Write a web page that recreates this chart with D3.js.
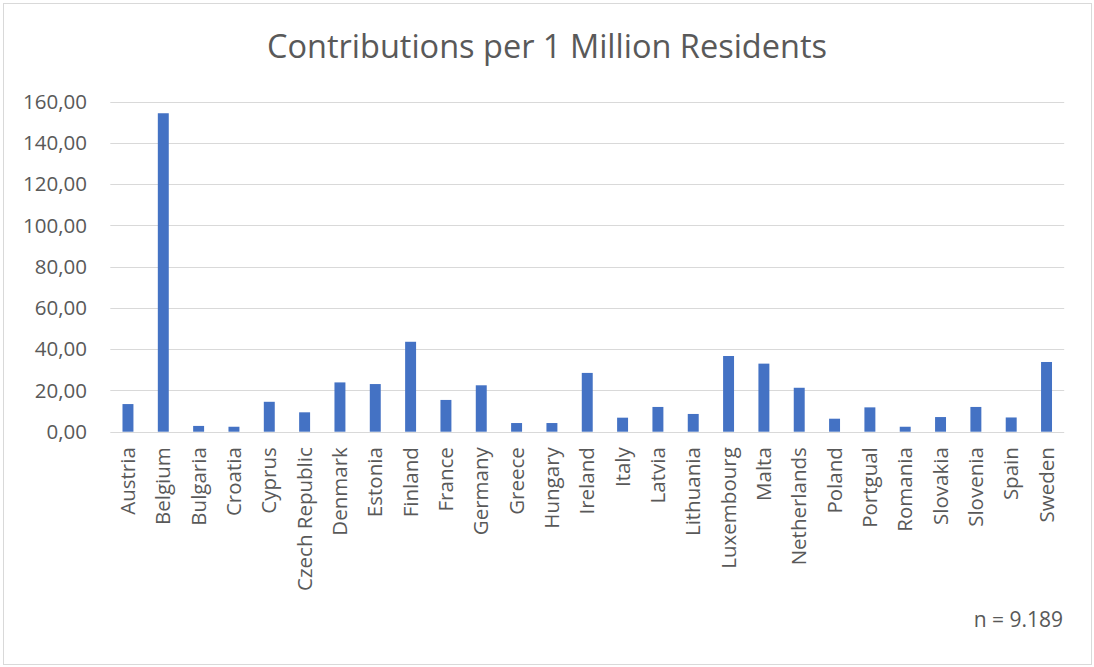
<!DOCTYPE html>
<html><head><meta charset="utf-8">
<script src="https://cdn.jsdelivr.net/npm/d3@7"></script>
<style>body{margin:0;background:#fff;} svg{display:block;}</style>
</head><body>
<svg id="chart" width="1094" height="667"></svg>
<script>
const categories = ["Austria","Belgium","Bulgaria","Croatia","Cyprus","Czech Republic","Denmark","Estonia","Finland","France","Germany","Greece","Hungary","Ireland","Italy","Latvia","Lithuania","Luxembourg","Malta","Netherlands","Poland","Portgual","Romania","Slovakia","Slovenia","Spain","Sweden"];
const values = [13.4,154.4,2.8,2.4,14.5,9.4,23.9,23.1,43.6,15.4,22.5,4.2,4.2,28.5,6.8,12.0,8.6,36.7,33.0,21.3,6.3,11.8,2.4,7.1,12.0,6.9,33.8];
const yTicks = [0,20,40,60,80,100,120,140,160];
const title = "Contributions per 1 Million Residents";
const note = "n = 9.189";

const font = "Open Sans, Lato, sans-serif";
const svg = d3.select("#chart");
svg.append("rect").attr("x",3.5).attr("y",3.5).attr("width",1088).attr("height",661)
  .attr("fill","#fff").attr("stroke","#d9d9d9").attr("stroke-width",1);

const x = d3.scaleBand().domain(categories).range([110.3,1064.2]).paddingInner(0.69).paddingOuter(0.345);
const y = d3.scaleLinear().domain([0,160]).range([431.7,101.7]);

const fmt = v => d3.format(".2f")(v).replace(".",",");

// gridlines
svg.append("g").selectAll("line").data(yTicks).join("line")
  .attr("x1",110.3).attr("x2",1064.2)
  .attr("y1",d=>Math.round(y(d))+0.5).attr("y2",d=>Math.round(y(d))+0.5)
  .attr("stroke","#d9d9d9").attr("stroke-width",1);

// y axis labels
const yAxis = d3.axisLeft(y).tickValues(yTicks).tickFormat(fmt).tickSize(0).tickPadding(0);
const ya = svg.append("g").attr("transform","translate(87,0)").call(yAxis);
ya.select(".domain").remove();
ya.selectAll("text").attr("font-family",font).attr("font-size",20.5).attr("fill","#595959");

// bars
svg.append("g").selectAll("rect").data(values).join("rect")
  .attr("x",(d,i)=>x(categories[i])).attr("width",x.bandwidth())
  .attr("y",d=>y(d)).attr("height",d=>y(0)-y(d))
  .attr("fill","#4472c4");

// x axis labels
const xAxis = d3.axisBottom(x).tickSize(0).tickPadding(0);
const xa = svg.append("g").attr("transform","translate(0,"+y(0)+")").call(xAxis);
xa.select(".domain").remove();
xa.selectAll("text")
  .attr("font-family",font).attr("font-size",20.5).attr("fill","#595959")
  .attr("transform","rotate(-90)")
  .attr("text-anchor","end").attr("x",-15.5).attr("y",0).attr("dy","0.35em");

svg.append("text").attr("x",547).attr("y",58).attr("text-anchor","middle")
  .attr("font-family",font).attr("font-size",32.5).attr("fill","#595959").text(title);

svg.append("text").attr("x",1063).attr("y",627).attr("text-anchor","end")
  .attr("font-family",font).attr("font-size",21).attr("fill","#595959").text(note);
</script>
</body></html>
